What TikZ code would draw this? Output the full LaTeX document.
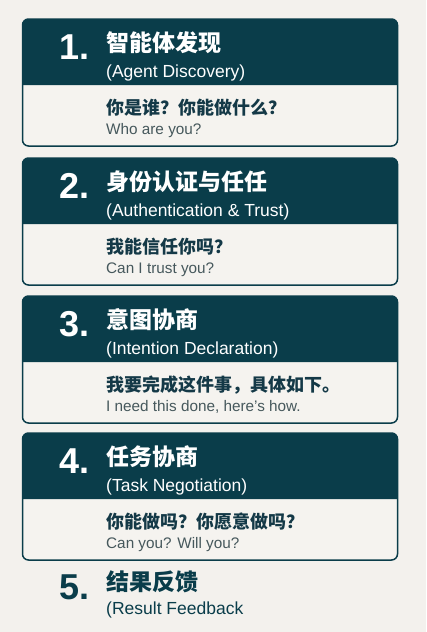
\documentclass[tikz,border=0pt]{standalone}
\usepackage{fontspec}
\setmainfont{Liberation Sans}
\newfontfamily\cjk{Noto Sans CJK SC}
\definecolor{bgc}{HTML}{F3F1ED}
\definecolor{bodyc}{HTML}{F5F3EF}
\definecolor{hdr}{HTML}{0A3D4A}
\definecolor{txtdark}{HTML}{143947}
\definecolor{txtgrey}{HTML}{46585C}
\tikzset{
  numtxt/.style={anchor=base east, inner sep=0pt, text height=26pt, text depth=0pt, text=white, font=\fontsize{36}{36}\selectfont\bfseries},
  titletxt/.style={anchor=base west, inner sep=0pt, text height=20pt, text depth=2pt, text=white, font=\fontsize{23}{23}\selectfont\cjk\bfseries},
  subtxt/.style={anchor=base west, inner sep=0pt, text height=13pt, text depth=4pt, text=white, font=\fontsize{17.5}{17.5}\selectfont},
  bodytxt/.style={anchor=base west, inner sep=0pt, text height=16pt, text depth=2pt, text=txtdark, font=\fontsize{18}{18}\selectfont\cjk\bfseries},
  engtxt/.style={anchor=base west, inner sep=0pt, text height=11.5pt, text depth=3.5pt, text=txtgrey, font=\fontsize{15.3}{15.3}\selectfont},
  cardfill/.style={fill=bodyc},
  cardhead/.style={fill=hdr},
  cardedge/.style={draw=hdr, line width=1.5pt, rounded corners=6pt}
}
\newcommand\drawcard[7]{%
  \path[cardfill, rounded corners=6pt] (22.5,-#2) rectangle (397.5,-#2-127);
  \path[cardhead] (22.5,-#2-66) {[rounded corners=6pt] -- (22.5,-#2) -- (397.5,-#2)} -- (397.5,-#2-66) -- cycle;
  \path[cardedge] (22.5,-#2) rectangle (397.5,-#2-127);
  \node[numtxt] (num#1) at (90,-#2-40) {#3};
  \node[titletxt] (title#1) at (106,-#2-32) {#4};
  \node[subtxt] (sub#1) at (106,-#2-58) {#5};
  \node[bodytxt] (body#1) at (106,-#2-95) {#6};
  \node[engtxt] (eng#1) at (106,-#2-115) {#7};
}
\begin{document}
\begin{tikzpicture}[x=1pt,y=1pt]
\useasboundingbox[fill=bgc] (0,0) rectangle (426,-632);
\drawcard{1}{19}{1.}{智能体发现}{(Agent Discovery)}{你是谁？你能做什么？}{Who are you?}
\drawcard{2}{158}{2.}{身份认证与任任}{(Authentication \& Trust)}{我能信任你吗？}{Can I trust you?}
\drawcard{3}{296}{3.}{意图协商}{(Intention Declaration)}{我要完成这件事，具体如下。}{I need this done, here’s how.}
\drawcard{4}{433}{4.}{任务协商}{(Task Negotiation)}{你能做吗？你愿意做吗？}{Can you? Will you?}
\node[numtxt, text=hdr] (num5) at (90,-599) {5.};
\node[titletxt, text=hdr] (title5) at (106,-590) {结果反馈};
\node[subtxt, text=hdr] (sub5) at (106,-614) {(Result Feedback};
\end{tikzpicture}
\end{document}
